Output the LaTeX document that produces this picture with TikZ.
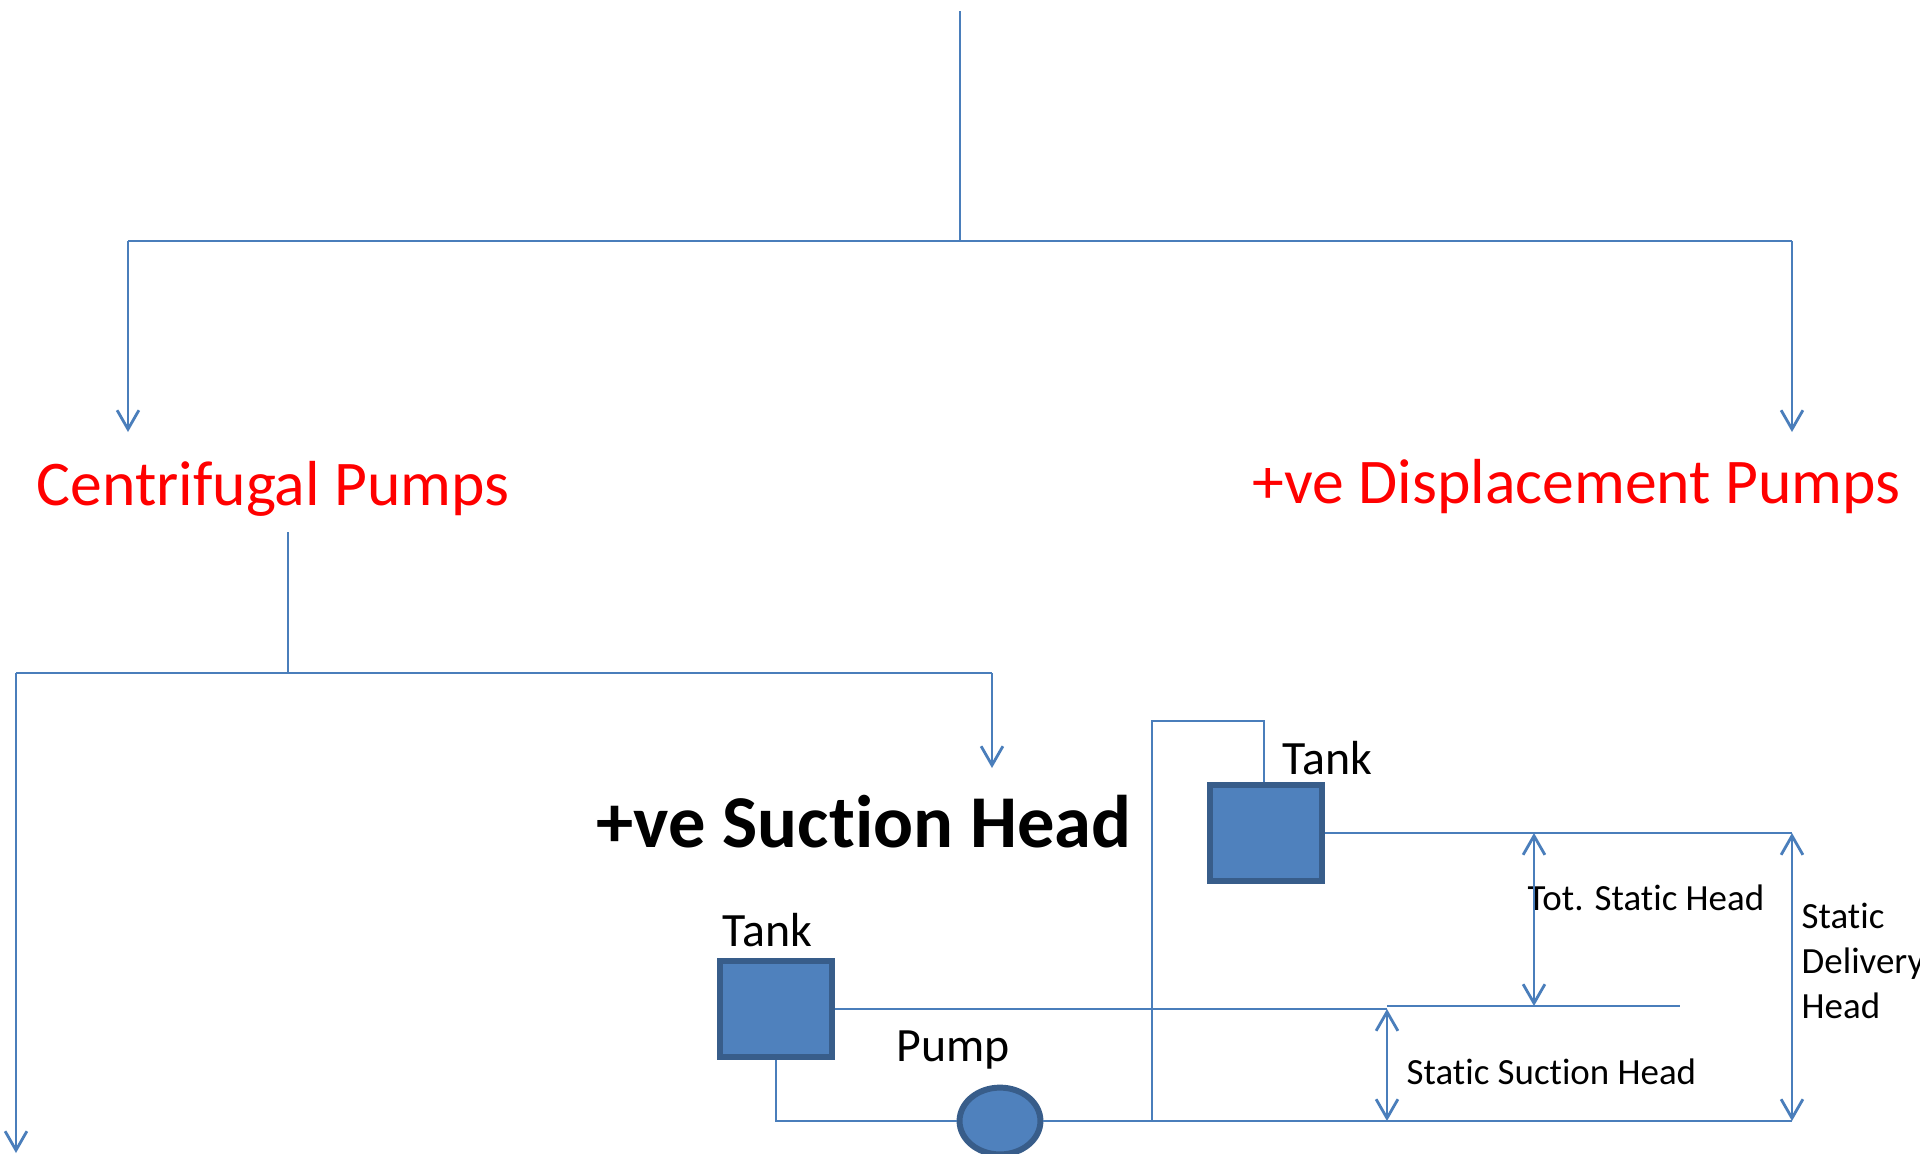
\documentclass[tikz,border=0pt]{standalone}
\usepackage{fontspec}
\setmainfont{Carlito}[Ligatures=NoCommon]
\usetikzlibrary{arrows.meta, shapes.geometric}
\definecolor{pipeblue}{HTML}{4A7EBB}
\definecolor{tankblue}{HTML}{4F81BD}
\definecolor{tankedge}{HTML}{385D8A}
\tikzset{>={Straight Barb[length=5.4pt, width=6.2pt]}}
\tikzset{pipe/.style={draw=pipeblue, line width=0.8pt},
  tankbox/.style={rectangle, fill=tankblue, draw=tankedge, line width=1.7pt, minimum width=32pt, minimum height=27.5pt, inner sep=0pt},
  pumpbox/.style={ellipse, fill=tankblue, draw=tankedge, line width=1.7pt, minimum width=23pt, minimum height=19pt, inner sep=0pt},
  headtext/.style={text=red, anchor=base west, inner sep=0pt, font=\fontsize{18.1}{22}\selectfont},
  partlabel/.style={anchor=base west, inner sep=0pt, font=\fontsize{13.6}{16}\selectfont},
  dimlabel/.style={anchor=base west, inner sep=0pt, font=\fontsize{10.5}{12.7}\selectfont}}
\begin{document}
\begin{tikzpicture}[x=0.01cm, y=-0.01cm]
\useasboundingbox (0,0) rectangle (1920,1153);
\coordinate (rootTop) at (960,11);
\coordinate (rootJoin) at (960,241);
\coordinate (leftCorner) at (128,241);
\coordinate (rightCorner) at (1792,241);
\coordinate (leftTip) at (128,432);
\coordinate (rightTip) at (1792,432);
\coordinate (centTop) at (288,532);
\coordinate (centJoin) at (288,673);
\coordinate (lowLeftCorner) at (16,673);
\coordinate (lowRightCorner) at (992,673);
\coordinate (lowLeftTip) at (16,1153);
\coordinate (lowRightTip) at (992,768);
\node[headtext] (centrifugal) at (36,505) {Centrifugal Pumps};
\node[headtext] (displacement) at (1252,503) {+ve Displacement Pumps};
\node[anchor=base west, inner sep=0pt, font=\fontsize{21.2}{25}\selectfont\bfseries] (suction) at (596,847) {+ve Suction Head};
\node[tankbox] (lowTank) at (776,1009) {};
\node[tankbox] (highTank) at (1266,833) {};
\node[pumpbox] (pump) at (1000,1121) {};
\node[partlabel] (lowTankLabel) at (722,946) {Tank};
\node[partlabel] (highTankLabel) at (1282,774) {Tank};
\node[partlabel] (pumpLabel) at (896,1061) {Pump};
\node[dimlabel] (totLabel) at (1527,910) {Tot. Static Head};
\node[dimlabel] (suctionLabel) at (1406,1084) {Static Suction Head};
\node[dimlabel, anchor=west, align=left] (deliveryLabel) at (1801,961) {Static\\Delivery\\Head};
\coordinate (riserBottom) at (1152,1121);
\coordinate (riserTop) at (1152,721);
\coordinate (riserEnd) at (1264,721);
\coordinate (endBottom) at (1792,1121);
\coordinate (endTop) at (1792,833);
\coordinate (suctionTop) at (1387,1009);
\coordinate (suctionBottom) at (1387,1121);
\coordinate (levelEnd) at (1680,1006);
\coordinate (levelStart) at (1387,1006);
\coordinate (totTop) at (1534,833);
\coordinate (totBottom) at (1534,1006);
\draw[pipe] (rootTop) -- (rootJoin);
\draw[pipe] (leftCorner) -- (rightCorner);
\draw[pipe, ->] (leftCorner) -- (leftTip);
\draw[pipe, ->] (rightCorner) -- (rightTip);
\draw[pipe] (centTop) -- (centJoin);
\draw[pipe] (lowLeftCorner) -- (lowRightCorner);
\draw[pipe, ->] (lowLeftCorner) -- (lowLeftTip);
\draw[pipe, ->] (lowRightCorner) -- (lowRightTip);
\draw[pipe] (lowTank.south) |- (pump.west);
\draw[pipe] (pump.east) -- (endBottom);
\draw[pipe] (riserBottom) -- (riserTop) -- (riserEnd) -- (highTank.north -| riserEnd);
\draw[pipe] (highTank.east) -- (endTop);
\draw[pipe] (lowTank.east) -- (suctionTop);
\draw[pipe] (levelStart) -- (levelEnd);
\draw[pipe, <->] (totTop) -- (totBottom);
\draw[pipe, <->] (suctionTop) -- (suctionBottom);
\draw[pipe, <->] (endTop) -- (endBottom);
\end{tikzpicture}
\end{document}
